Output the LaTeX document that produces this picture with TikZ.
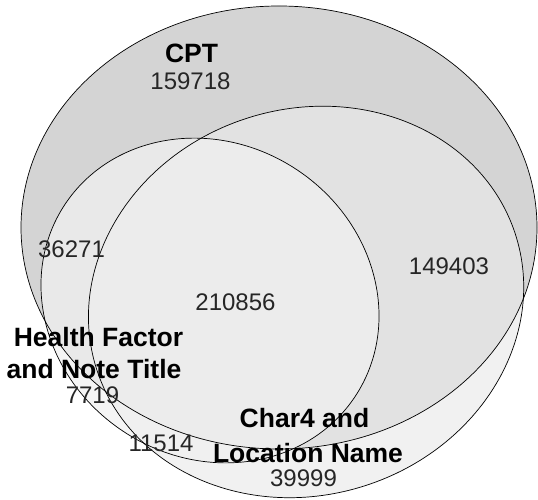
\documentclass[tikz,border=0pt]{standalone}
\usepackage{fontspec}
\setmainfont{Liberation Sans}
\begin{document}
\begin{tikzpicture}[x=1pt,y=1pt,
  outline/.style={draw=black,line width=0.7pt},
  hfrot/.style={rotate around={-33.5:(210,199.5)}},
  cfrot/.style={rotate around={17.9:(307.5,198.5)}},
  num/.style={anchor=base,inner sep=0pt,text=black!85,font=\fontsize{24}{28}\selectfont},
  setlabel/.style={anchor=base,inner sep=0pt,text=black,font=\fontsize{26.5}{31}\selectfont\bfseries}]
\definecolor{cptonly}{RGB}{212,212,212}
\definecolor{cpthf}{RGB}{233,233,233}
\definecolor{cptcf}{RGB}{226,226,226}
\definecolor{allthree}{RGB}{236,236,236}
\definecolor{hfonly}{RGB}{245,245,245}
\definecolor{hfcf}{RGB}{240,240,240}
\definecolor{cfonly}{RGB}{241,241,241}
\useasboundingbox (0,0) rectangle (538,500);
\fill[white] (0,0) rectangle (538,500);
\def\CPTpath{(279,272.5) ellipse [x radius=258pt, y radius=221.5pt]}
\def\HFpath{(210,199.5) ellipse [x radius=174pt, y radius=157pt]}
\def\CFpath{(306,198.5) ellipse [x radius=220pt, y radius=193pt]}
% outside CPT
\fill[cfonly,cfrot] \CFpath;
\fill[hfonly,hfrot] \HFpath;
\begin{scope}
  \clip[hfrot] \HFpath;
  \fill[hfcf,cfrot] \CFpath;
\end{scope}
% CPT
\fill[cptonly] \CPTpath;
\begin{scope}
  \clip \CPTpath;
  \fill[cptcf,cfrot] \CFpath;
  \fill[cpthf,hfrot] \HFpath;
  \begin{scope}
    \clip[hfrot] \HFpath;
    \fill[allthree,cfrot] \CFpath;
  \end{scope}
\end{scope}
% outlines
\draw[outline] \CPTpath;
\draw[outline,hfrot] \HFpath;
\draw[outline,cfrot] \CFpath;
% labels
\node[setlabel] (lcpt) at (191.5,437) {CPT};
\node[num] (n159718) at (190.5,410) {159718};
\node[num] (n36271) at (71.5,242) {36271};
\node[num] (n149403) at (449,225) {149403};
\node[num] (n210856) at (235.5,189) {210856};
\node[setlabel] (lhf1) at (98.5,153) {Health Factor};
\node[setlabel] (lhf2) at (94,121) {and Note Title};
\node[num] (n7719) at (92.5,96) {7719};
\node[setlabel] (lcf1) at (304.5,72) {Char4 and};
\node[setlabel] (lcf2) at (308,37) {Location Name};
\node[num] (n39999) at (303.5,13) {39999};
\node[num] (n11514) at (161,48) {11514};
\end{tikzpicture}
\end{document}
